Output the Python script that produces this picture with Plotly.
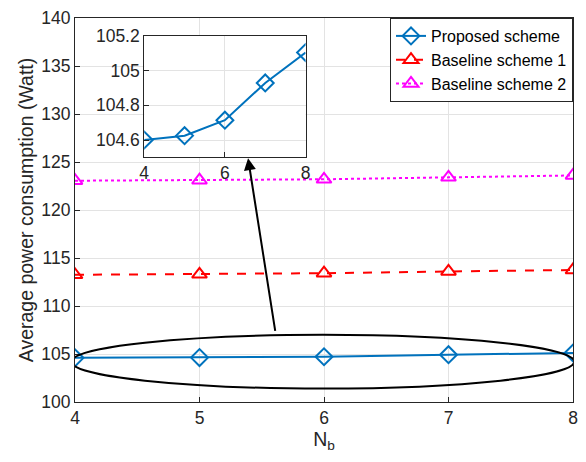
import plotly.graph_objects as go

nb = [4, 5, 6, 7, 8]
proposed = [104.60, 104.625, 104.714, 104.928, 105.103]
baseline1 = [113.25, 113.3, 113.42, 113.6, 113.75]
baseline2 = [123.05, 123.1, 123.2, 123.4, 123.6]

y_ticks = [100, 105, 110, 115, 120, 125, 130, 135, 140]
inset_x_ticks = [4, 6, 8]
inset_y_ticks = [104.6, 104.8, 105.0, 105.2]
inset_y_labels = ["104.6", "104.8", "105", "105.2"]

BLUE = "#0072BD"
FONT = "Liberation Sans, Arial, sans-serif"
TICK = 17.5

fig = go.Figure()
fig.add_trace(go.Scatter(x=nb, y=proposed, name="Proposed scheme", mode="lines+markers",
                         line=dict(color=BLUE, width=2),
                         marker=dict(symbol="diamond-open", size=13, color=BLUE, line=dict(width=2))))
fig.add_trace(go.Scatter(x=nb, y=baseline1, name="Baseline scheme 1", mode="lines+markers",
                         line=dict(color="#FF0000", width=2, dash="dash"),
                         marker=dict(symbol="triangle-up-open", size=13, color="#FF0000", line=dict(width=2))))
fig.add_trace(go.Scatter(x=nb, y=baseline2, name="Baseline scheme 2", mode="lines+markers",
                         line=dict(color="#FF00FF", width=2, dash="dot"),
                         marker=dict(symbol="triangle-up-open", size=13, color="#FF00FF", line=dict(width=2))))
# inset
fig.add_trace(go.Scatter(x=nb, y=proposed, mode="lines+markers", showlegend=False,
                         xaxis="x2", yaxis="y2",
                         line=dict(color=BLUE, width=2),
                         marker=dict(symbol="diamond-open", size=13, color=BLUE, line=dict(width=2))))

axis_common = dict(showline=True, linecolor="#262626", linewidth=1, mirror=True,
                   ticks="inside", ticklen=5, tickcolor="#262626",
                   showgrid=True, gridcolor="#e3e3e3", gridwidth=1, zeroline=False,
                   tickfont=dict(size=TICK, color="#262626", family=FONT))

fig.update_layout(
    width=586, height=462,
    margin=dict(l=75, r=8, t=14, b=60),
    paper_bgcolor="white", plot_bgcolor="white",
    font=dict(family=FONT, color="#262626"),
    xaxis=dict(range=[4, 8], tickvals=nb, domain=[0, 1],
               title=dict(text="N<sub>b</sub>", font=dict(size=19.5, family=FONT), standoff=2),
               **axis_common),
    yaxis=dict(range=[100, 140], tickvals=y_ticks, domain=[0, 1],
               title=dict(text="Average power consumption (Watt)", font=dict(size=19.5, family=FONT), standoff=2),
               **axis_common),
    xaxis2=dict(range=[4, 8], tickvals=inset_x_ticks, domain=[0.139, 0.463], anchor="y2",
                **axis_common),
    yaxis2=dict(range=[104.5, 105.2], tickvals=inset_y_ticks, ticktext=inset_y_labels,
                domain=[0.637, 0.954], anchor="x2", **axis_common),
    legend=dict(x=1, y=1, xanchor="right", yanchor="top", bgcolor="white",
                bordercolor="#262626", borderwidth=1,
                font=dict(size=16, family=FONT, color="black"),
                tracegroupgap=0, itemwidth=30),
)

fig.add_shape(type="circle", xref="x", yref="y", x0=3.97, x1=8.01, y0=101.4, y1=107.0,
              line=dict(color="black", width=2))
fig.add_annotation(x=5.39, y=125.4, ax=5.61, ay=107.25, xref="x", yref="y", axref="x", ayref="y",
                   text="", showarrow=True, arrowhead=2, arrowsize=1.2, arrowwidth=2, arrowcolor="black")

fig.write_html("out.html")
